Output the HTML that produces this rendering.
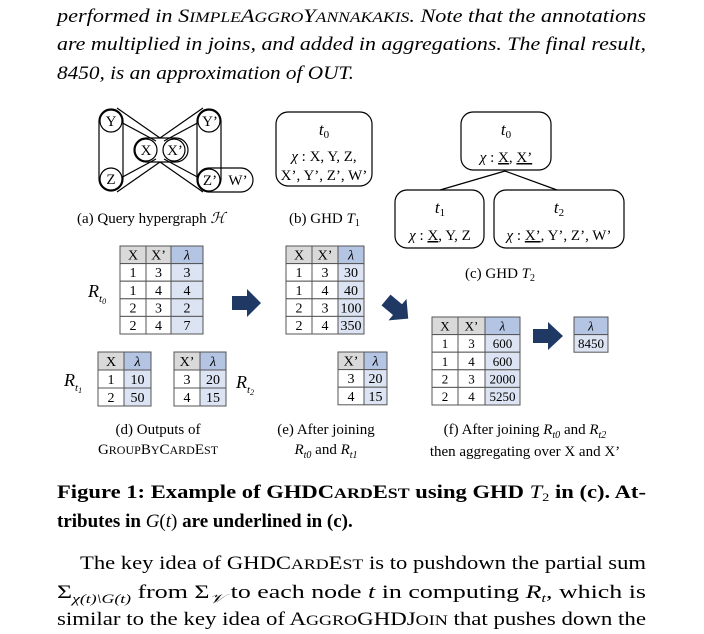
<!DOCTYPE html>
<html><head><meta charset="utf-8"><style>
html,body{margin:0;padding:0;background:#fff;}
svg{display:block;font-family:"Liberation Serif",serif;}
</style></head><body>
<svg id="fig" width="704" height="634" viewBox="0 0 704 634" xmlns="http://www.w3.org/2000/svg">
<g font-style="italic" font-size="19" fill="#000">
<text x="57" y="22" textLength="589" lengthAdjust="spacingAndGlyphs">performed in S<tspan font-size="15">IMPLE</tspan>A<tspan font-size="15">GGRO</tspan>Y<tspan font-size="15">ANNAKAKIS</tspan>. Note that the annotations</text>
<text x="57" y="50" textLength="589" lengthAdjust="spacingAndGlyphs">are multiplied in joins, and added in aggregations. The final result,</text>
<text x="57" y="79" textLength="297" lengthAdjust="spacingAndGlyphs">8450, is an approximation of OUT.</text>
</g>

<!-- (a) hypergraph -->
<g fill="none" stroke="#000" stroke-width="1.2">
<rect x="99" y="109" width="24" height="82" rx="12"/>
<rect x="197" y="109" width="24" height="82" rx="12"/>
<rect x="134" y="138" width="54" height="24" rx="12"/>
<rect x="197" y="168" width="56" height="24" rx="12"/>
<line x1="104" y1="113" x2="156" y2="141"/><line x1="104" y1="187" x2="156" y2="159"/>
<line x1="117" y1="108" x2="160" y2="138"/><line x1="117" y1="192" x2="160" y2="162"/>
<line x1="216" y1="113" x2="164" y2="141"/><line x1="216" y1="187" x2="164" y2="159"/>
<line x1="203" y1="108" x2="160" y2="138"/><line x1="203" y1="192" x2="160" y2="162"/>
<circle cx="111" cy="121" r="11" fill="#fff"/><circle cx="111" cy="179" r="11" fill="#fff"/>
<circle cx="146" cy="150" r="11" fill="#fff"/><circle cx="174" cy="150" r="11" fill="#fff"/>
<circle cx="209" cy="121" r="11" fill="#fff"/><circle cx="209" cy="180" r="11" fill="#fff"/>
</g>
<g font-size="15" text-anchor="middle">
<text x="111" y="126">Y</text><text x="111" y="184">Z</text><text x="146" y="155">X</text><text x="175" y="155">X’</text>
<text x="210" y="126">Y’</text><text x="210" y="185">Z’</text><text x="238" y="185">W’</text>
</g>
<text x="77" y="223" font-size="15">(a) Query hypergraph <tspan font-style="italic" font-family="'DejaVu Serif',serif">ℋ</tspan></text>

<!-- (b) -->
<rect x="276" y="112" width="96" height="74" rx="12" fill="none" stroke="#000" stroke-width="1.2"/>
<g font-size="15" text-anchor="middle">
<text x="324" y="135" font-style="italic" font-size="17">t<tspan font-size="11" dy="3" font-style="normal">0</tspan></text>
<text x="324" y="161"><tspan font-style="italic">χ</tspan> : X, Y, Z,</text>
<text x="324" y="180">X’, Y’, Z’, W’</text>
</g>
<text x="289" y="223" font-size="15">(b) GHD <tspan font-style="italic">T</tspan><tspan font-size="10" dy="3">1</tspan></text>

<!-- (c) -->
<g fill="none" stroke="#000" stroke-width="1.2">
<rect x="461" y="112" width="90" height="58" rx="12"/>
<rect x="395" y="190" width="89" height="58" rx="12"/>
<rect x="494" y="190" width="130" height="58" rx="12"/>
<line x1="505" y1="171" x2="440" y2="190"/><line x1="505" y1="171" x2="557" y2="190"/>
</g>
<g font-size="15" text-anchor="middle">
<text x="506" y="135" font-style="italic" font-size="17">t<tspan font-size="11" dy="3" font-style="normal">0</tspan></text>
<text x="506" y="162"><tspan font-style="italic">χ</tspan> : <tspan text-decoration="underline">X</tspan>, <tspan text-decoration="underline">X’</tspan></text>
<text x="440" y="213" font-style="italic" font-size="17">t<tspan font-size="11" dy="3" font-style="normal">1</tspan></text>
<text x="440" y="240"><tspan font-style="italic">χ</tspan> : <tspan text-decoration="underline">X</tspan>, Y, Z</text>
<text x="559" y="213" font-style="italic" font-size="17">t<tspan font-size="11" dy="3" font-style="normal">2</tspan></text>
<text x="559" y="240"><tspan font-style="italic">χ</tspan> : <tspan text-decoration="underline">X’</tspan>, Y’, Z’, W’</text>
</g>
<text x="465" y="278" font-size="15">(c) GHD <tspan font-style="italic">T</tspan><tspan font-size="10" dy="3">2</tspan></text>

<g id="tables"></g>

<!-- arrows -->
<g fill="#1f3864">
<path d="M232 296 H247 V289 L261 303 L247 317 V310 H232 Z"/>
<path d="M0 -7 H15 V-14 L29 0 L15 14 V7 H0 Z" transform="translate(386 300) rotate(40)"/>
<path d="M533 329 H548 V322 L563 336 L548 350 V343 H533 Z"/>
</g>

<g font-size="18" font-style="italic">
<text x="88" y="297">R<tspan font-size="11" dy="5">t<tspan font-size="8" dy="2">0</tspan></tspan></text>
<text x="64" y="386">R<tspan font-size="11" dy="5">t<tspan font-size="8" dy="2">1</tspan></tspan></text>
<text x="236" y="388">R<tspan font-size="11" dy="5">t<tspan font-size="8" dy="2">2</tspan></tspan></text>
</g>

<g font-size="15" text-anchor="middle">
<text x="158" y="434">(d) Outputs of</text>
<text x="158" y="454">G<tspan font-size="12">ROUP</tspan>B<tspan font-size="12">Y</tspan>C<tspan font-size="12">ARD</tspan>E<tspan font-size="12">ST</tspan></text>
<text x="326" y="434">(e) After joining</text>
<text x="326" y="454"><tspan font-style="italic">R</tspan><tspan font-size="10" font-style="italic" dy="4">t0</tspan><tspan dy="-4"> and </tspan><tspan font-style="italic">R</tspan><tspan font-size="10" font-style="italic" dy="4">t1</tspan></text>
<text x="525" y="434">(f) After joining <tspan font-style="italic">R</tspan><tspan font-size="10" font-style="italic" dy="4">t0</tspan><tspan dy="-4"> and </tspan><tspan font-style="italic">R</tspan><tspan font-size="10" font-style="italic" dy="4">t2</tspan></text>
<text x="525" y="456">then aggregating over X and X’</text>
</g>

<g font-size="19" font-weight="bold">
<text x="57" y="498" textLength="589" lengthAdjust="spacingAndGlyphs">Figure 1: Example of GHDC<tspan font-size="15">ARD</tspan>E<tspan font-size="15">ST</tspan> using GHD <tspan font-style="italic" font-weight="normal">T</tspan><tspan font-size="12" font-weight="normal" dy="3">2</tspan><tspan dy="-3"> in (c). At-</tspan></text>
<text x="57" y="527">tributes in <tspan font-style="italic" font-weight="normal">G</tspan><tspan font-weight="normal">(<tspan font-style="italic">t</tspan>)</tspan> are underlined in (c).</text>
</g>
<g font-size="19">
<text x="80" y="569" textLength="566" lengthAdjust="spacingAndGlyphs">The key idea of GHDC<tspan font-size="15">ARD</tspan>E<tspan font-size="15">ST</tspan> is to pushdown the partial sum</text>
<text x="57" y="598" textLength="589" lengthAdjust="spacingAndGlyphs">Σ<tspan font-size="13" font-style="italic" dy="5">χ(t)\G(t)</tspan><tspan dy="-5"> from Σ</tspan><tspan font-size="13" font-style="italic" dy="5">𝒱</tspan><tspan dy="-5"> to each node </tspan><tspan font-style="italic">t</tspan> in computing <tspan font-style="italic">R</tspan><tspan font-size="12" font-style="italic" dy="4">t</tspan><tspan dy="-4">, which is</tspan></text>
<text x="57" y="625" textLength="589" lengthAdjust="spacingAndGlyphs">similar to the key idea of A<tspan font-size="15">GGRO</tspan>GHDJ<tspan font-size="15">OIN</tspan> that pushes down the</text>
</g>
</svg>
<script>
const rt0Cols = ['X', 'X’', 'λ'];
const rt0Rows = [['1','3','3'],['1','4','4'],['2','3','2'],['2','4','7']];
const eRows = [['1','3','30'],['1','4','40'],['2','3','100'],['2','4','350']];
const fRows = [['1','3','600'],['1','4','600'],['2','3','2000'],['2','4','5250']];
const rt1Rows = [['1','10'],['2','50']];
const rt2Rows = [['3','20'],['4','15']];
const finalRows = [['8450']];
const NS = 'http://www.w3.org/2000/svg';
const host = document.getElementById('tables');
function table(name, x, y, widths, rowH, cols, rows, fs) {
  const g = document.createElementNS(NS, 'g');
  
  
  const all = [cols].concat(rows);
  all.forEach((r, ri) => {
    let cx = x;
    r.forEach((v, ci) => {
      const isL = ci === r.length - 1;
      const rect = document.createElementNS(NS, 'rect');
      rect.setAttribute('x', cx); rect.setAttribute('y', y + ri * rowH);
      rect.setAttribute('width', widths[ci]); rect.setAttribute('height', rowH);
      rect.setAttribute('fill', ri === 0 ? (isL ? '#b4c4e3' : '#d9d9d9') : (isL ? '#dce3f2' : '#ffffff'));
      rect.setAttribute('stroke', '#555'); rect.setAttribute('stroke-width', '1');
      g.appendChild(rect);
      const t = document.createElementNS(NS, 'text');
      t.setAttribute('x', cx + widths[ci] / 2); t.setAttribute('y', y + ri * rowH + rowH - 4);
      t.setAttribute('text-anchor', 'middle'); t.setAttribute('font-size', fs);
      if (v === 'λ') t.setAttribute('font-style', 'italic');
      t.textContent = v;
      g.appendChild(t);
      cx += widths[ci];
    });
  });
  host.appendChild(g);
}
table('table-rt0', 120, 246, [26, 25, 32], 17.6, rt0Cols, rt0Rows, 14);
table('table-after-join-e', 286, 246, [26, 26, 26], 17.6, rt0Cols, eRows, 14);
table('table-after-join-f', 432, 317, [26, 27, 35], 17.6, rt0Cols, fRows, 13);
table('table-final', 574, 317, [34], 17.6, ['λ'], finalRows, 13);
table('table-rt1', 98, 352, [26, 27], 18, ['X', 'λ'], rt1Rows, 14);
table('table-rt2', 174, 352, [26, 26], 18, ['X’', 'λ'], rt2Rows, 14);
table('table-rt2-e', 338, 352, [26, 23], 17.6, ['X’', 'λ'], rt2Rows, 14);
</script>
</body></html>
